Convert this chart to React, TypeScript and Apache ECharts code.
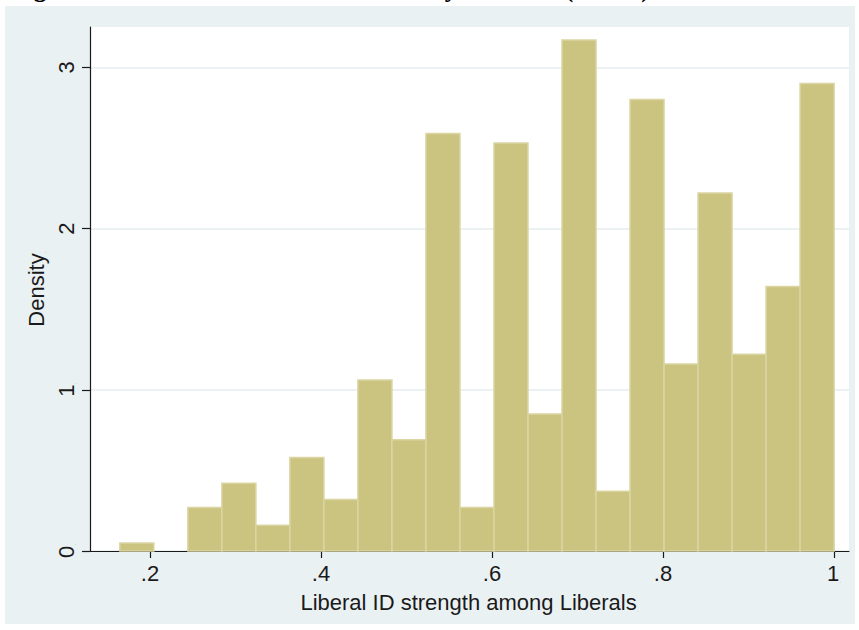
import React, { useEffect, useRef } from "react";
import * as echarts from "echarts";

// Histogram bins: left edge of the first bin and common bin width
const binStart = 0.1647;
const binWidth = 0.03978;
// Density of each bin, left to right
const densities = [
  0.05, 0, 0.27, 0.42, 0.16, 0.58, 0.32, 1.06, 0.69, 2.59, 0.27,
  2.53, 0.85, 3.17, 0.37, 2.8, 1.16, 2.22, 1.22, 1.64, 2.9,
];

const xTickValues = [0.2, 0.4, 0.6, 0.8, 1];
const xTickLabels = [".2", ".4", ".6", ".8", "1"];
const yTickValues = [0, 1, 2, 3];
const yTickLabels = ["0", "1", "2", "3"];

const xTitle = "Liberal ID strength among Liberals";
const yTitle = "Density";
const figureTitle = "Figure 2: Distribution of Liberal Identity Measure (ANES)";

const FONT = "'Liberation Sans Narrow', 'Liberation Sans', Arial, sans-serif";
const BG = "#EAF1F3";
const BAR_FILL = "#CBC380";
const BAR_EDGE = "#DAD5A2";
const INK = "#1a1a1a";

const dot = { color: "#b8b8b8", fontSize: 7, verticalAlign: "bottom" as const };

export default function App() {
  const ref = useRef<HTMLDivElement>(null);

  useEffect(() => {
    if (!ref.current) return;
    const chart = echarts.init(ref.current, null, { renderer: "svg" });

    const bins = densities.map((d, i) => [
      binStart + i * binWidth,
      binStart + (i + 1) * binWidth,
      d,
    ]);

    const labelFor = (v: number, values: number[], labels: string[]) => {
      let best = 0;
      values.forEach((t, i) => {
        if (Math.abs(t - v) < Math.abs(values[best] - v)) best = i;
      });
      return labels[best];
    };

    chart.setOption({
      animation: false,
      backgroundColor: "#ffffff",
      graphic: [
        {
          // figure caption sits above the frame, running off the top edge
          type: "text",
          x: 11,
          y: -11.5,
          z: -5,
          style: {
            text: figureTitle,
            font: "bold 25.5px 'Liberation Serif', 'Times New Roman', serif",
            fill: "#000",
            verticalAlign: "middle",
          },
        },
        {
          type: "rect",
          z: -10,
          shape: { x: 5, y: 6, width: 850, height: 618 },
          style: { fill: BG },
        },
      ],
      grid: {
        left: 90,
        top: 27,
        right: 10,
        bottom: 79,
        show: true,
        backgroundColor: "#ffffff",
        borderWidth: 0,
        containLabel: false,
      },
      xAxis: {
        type: "value",
        min: 0.1298,
        max: 1.0175,
        name: xTitle + "{d|.}",
        nameLocation: "middle",
        nameGap: 40,
        nameTextStyle: {
          fontFamily: FONT,
          fontSize: 22,
          color: INK,
          rich: { d: dot },
        },
        axisLine: { show: true, onZero: false, lineStyle: { color: INK, width: 1.2 } },
        axisTick: {
          show: true,
          inside: false,
          length: 7,
          customValues: xTickValues,
          lineStyle: { color: INK, width: 1.2 },
        },
        axisLabel: {
          customValues: xTickValues,
          margin: 11,
          fontFamily: FONT,
          fontSize: 22,
          color: INK,
          formatter: (v: number) => {
            const s = labelFor(v, xTickValues, xTickLabels);
            return s === "1" ? s + "{d|.}" : s;
          },
          rich: { d: dot },
        },
        splitLine: { show: false },
      },
      yAxis: {
        type: "value",
        min: 0,
        max: 3.25,
        name: yTitle + "{d|.}",
        nameLocation: "middle",
        nameRotate: 90,
        nameGap: 43,
        nameTextStyle: { fontFamily: FONT, fontSize: 22, color: INK, rich: { d: dot } },
        axisLine: { show: true, lineStyle: { color: INK, width: 1.2 } },
        axisTick: {
          show: true,
          inside: false,
          length: 8,
          customValues: yTickValues,
          lineStyle: { color: INK, width: 1.2 },
        },
        axisLabel: {
          customValues: yTickValues,
          rotate: 90,
          margin: 13,
          fontFamily: FONT,
          fontSize: 22,
          color: INK,
          formatter: (v: number) => {
            const s = labelFor(v, yTickValues, yTickLabels);
            return s === "0" || s === "1" ? s + "{d|.}" : s;
          },
          rich: { d: dot },
        },
        splitLine: { show: true, lineStyle: { color: "#E6EEF1", width: 1.5 } },
      },
      series: [
        {
          type: "custom",
          data: bins,
          encode: { x: [0, 1], y: 2 },
          renderItem: (_params: any, api: any) => {
            const x0 = api.value(0);
            const x1 = api.value(1);
            const h = api.value(2);
            if (!h) return null;
            const top = api.coord([x0, h]);
            const base = api.coord([x1, 0]);
            return {
              type: "rect",
              shape: {
                x: top[0],
                y: top[1],
                width: base[0] - top[0],
                height: base[1] - top[1],
              },
              style: { fill: BAR_FILL, stroke: BAR_EDGE, lineWidth: 1.5 },
            };
          },
        },
      ],
    });

    return () => chart.dispose();
  }, []);

  return (
    <div
      ref={ref}
      style={{ position: "fixed", left: 0, top: 0, width: 859, height: 630, background: "#fff" }}
    />
  );
}
